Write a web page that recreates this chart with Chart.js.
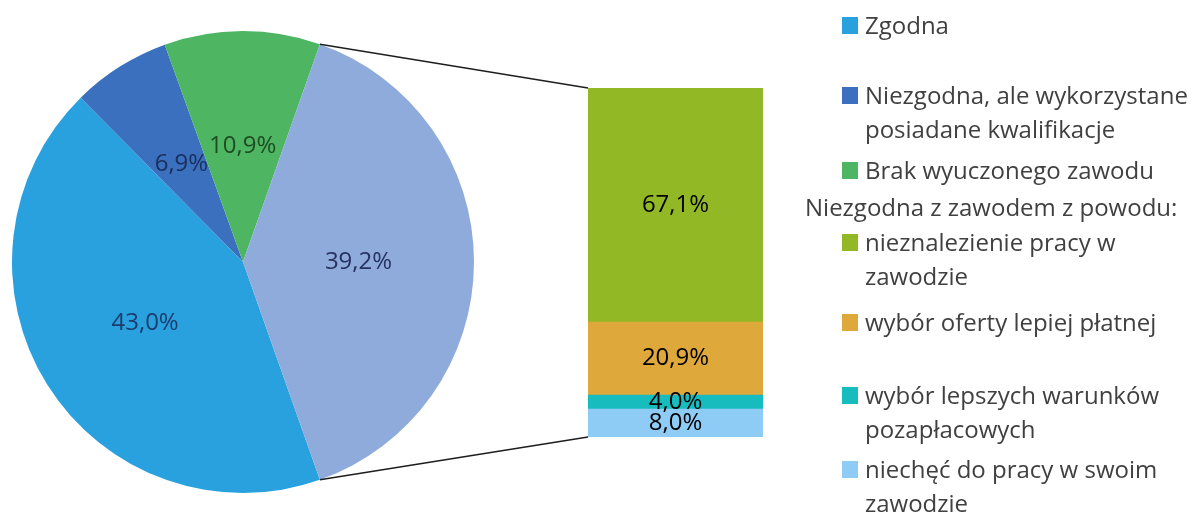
<!DOCTYPE html>
<html lang="pl">
<head>
<meta charset="utf-8">
<script src="https://cdn.jsdelivr.net/npm/chart.js@4.4.0/dist/chart.umd.min.js"></script>
<style>
  body { margin: 0; background: #fff; font-family: "Open Sans", sans-serif; }
  #page { position: relative; width: 1202px; height: 513px; overflow: hidden; background: #fff; }
  #pie { position: absolute; left: 12px; top: 31px; }
  #bar { position: absolute; left: 588px; top: 88px; }
  #links { position: absolute; left: 0; top: 0; pointer-events: none; }
  .entry { position: absolute; font-size: 24px; line-height: 34.5px; color: #404040; white-space: nowrap; }
  .swatch { position: absolute; left: 842px; width: 16px; height: 17px; }
  .entry.item { left: 865px; }
  .entry.head { left: 805px; }
</style>
</head>
<body>
<div id="page">
  <canvas id="pie" width="462" height="462"></canvas>
  <canvas id="bar" width="175" height="349"></canvas>
  <canvas id="links" width="1202" height="513"></canvas>
  <div id="legend"></div>
</div>
<script>
// main pie: how the job relates to the learned profession
const pieLabels = ['Zgodna', ['Niezgodna, ale wykorzystane', 'posiadane kwalifikacje'], 'Brak wyuczonego zawodu', 'Niezgodna z zawodem'];
const pieValues = [43.0, 6.9, 10.9, 39.2];
const pieColors = ['#29a1df', '#3b70be', '#4eb663', '#8eabdb'];
const pieTextColors = ['#1c3d6c', '#1a2f5c', '#1f4d23', '#26325f'];

// breakdown of the last slice, top of the bar first
const barHeader = 'Niezgodna z zawodem z powodu:';
const barLabels = [['nieznalezienie pracy w', 'zawodzie'], 'wybór oferty lepiej płatnej', ['wybór lepszych warunków', 'pozapłacowych'], ['niechęć do pracy w swoim', 'zawodzie']];
const barValues = [67.1, 20.9, 4.0, 8.0];
const barColors = ['#93b826', '#dfa83b', '#17bcbe', '#8ecbf5'];
const barTextColors = ['#2f4a12', '#4d3413', '#1b3f73', '#1b3f73'];

const fmt = v => v.toFixed(1).replace('.', ',') + '%';
const labelFont = '24px "Open Sans", sans-serif';

// writes each value in the middle of its slice / segment
const valueLabels = {
  id: 'valueLabels',
  afterDatasetsDraw(chart, args, opts) {
    const ctx = chart.ctx;
    ctx.save();
    ctx.font = labelFont;
    ctx.textAlign = 'center';
    ctx.textBaseline = 'middle';
    chart.data.datasets.forEach((ds, di) => {
      chart.getDatasetMeta(di).data.forEach((el, i) => {
        const p = el.getCenterPoint();
        ctx.fillStyle = ds.textColor[i] || ds.textColor;
        ctx.fillText(fmt(ds.data[i]), p.x, p.y);
      });
    });
    ctx.restore();
  }
};

const split = pieValues[pieValues.length - 1];

const pieChart = new Chart(document.getElementById('pie'), {
  type: 'pie',
  data: {
    labels: pieLabels,
    datasets: [{
      data: pieValues,
      backgroundColor: pieColors,
      textColor: pieTextColors,
      borderWidth: 0
    }]
  },
  options: {
    responsive: false,
    animation: false,
    // last slice centred at 3 o'clock, facing the bar
    rotation: 90 + split * 1.8,
    layout: { padding: 0 },
    plugins: { legend: { display: false }, tooltip: { enabled: false } }
  },
  plugins: [valueLabels]
});

// stacked bar: datasets go bottom-up, so reverse the lists
const order = barValues.map((v, i) => i).reverse();
const barChart = new Chart(document.getElementById('bar'), {
  type: 'bar',
  data: {
    labels: [''],
    datasets: order.map(i => ({
      label: barLabels[i],
      data: [barValues[i]],
      backgroundColor: barColors[i],
      textColor: barTextColors[i],
      borderWidth: 0,
      barPercentage: 1,
      categoryPercentage: 1
    }))
  },
  options: {
    responsive: false,
    animation: false,
    layout: { padding: 0 },
    plugins: { legend: { display: false }, tooltip: { enabled: false } },
    scales: {
      x: { display: false, stacked: true },
      y: { display: false, stacked: true, min: 0, max: 100 }
    }
  },
  plugins: [valueLabels]
});

// connector lines from the split slice edges to the bar corners
function drawLinks() {
  const ctx = document.getElementById('links').getContext('2d');
  const pieEl = document.getElementById('pie');
  const barEl = document.getElementById('bar');
  const arc = pieChart.getDatasetMeta(0).data[pieValues.length - 1];
  const px = pieEl.offsetLeft, py = pieEl.offsetTop;
  const bx = barEl.offsetLeft, by = barEl.offsetTop;
  const metas = barChart.data.datasets.map((d, i) => barChart.getDatasetMeta(i).data[0]);
  const topSeg = metas[metas.length - 1];
  const bottomSeg = metas[0];
  const left = bx + topSeg.x - topSeg.width / 2;

  const r = arc.outerRadius;
  const a0 = arc.startAngle, a1 = arc.endAngle;
  ctx.strokeStyle = '#1e1e1e';
  ctx.lineWidth = 1.6;
  ctx.beginPath();
  ctx.moveTo(px + arc.x + r * Math.cos(a0), py + arc.y + r * Math.sin(a0));
  ctx.lineTo(left, by + topSeg.y);
  ctx.moveTo(px + arc.x + r * Math.cos(a1), py + arc.y + r * Math.sin(a1));
  ctx.lineTo(left, by + bottomSeg.base);
  ctx.stroke();
}
drawLinks();

// legend, laid out like the report
const legend = document.getElementById('legend');
const rows = [25, 95, 170, 242, 322, 395, 469];
const headRow = 207;
const entries = [];
pieLabels.slice(0, -1).forEach((l, i) => entries.push({ text: l, color: pieColors[i] }));
barLabels.forEach((l, i) => entries.push({ text: l, color: barColors[i] }));

entries.forEach((e, i) => {
  const sw = document.createElement('div');
  sw.className = 'swatch';
  sw.style.background = e.color;
  sw.style.top = (rows[i] - 8) + 'px';
  legend.appendChild(sw);
  const t = document.createElement('div');
  t.className = 'entry item';
  t.style.top = (rows[i] - 17.25) + 'px';
  t.innerHTML = [].concat(e.text).join('<br>');
  legend.appendChild(t);
});
const head = document.createElement('div');
head.className = 'entry head';
head.style.top = (headRow - 17.25) + 'px';
head.textContent = barHeader;
legend.appendChild(head);
</script>
</body>
</html>
